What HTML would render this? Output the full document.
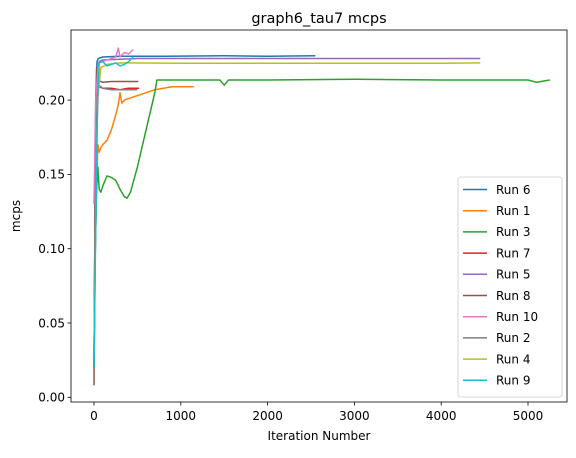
<!DOCTYPE html>
<html><head><meta charset="utf-8"><style>
body{margin:0;background:#fff;}
svg text{font-family:"DejaVu Sans","Liberation Sans",sans-serif;fill:#000;}
</style></head><body>
<svg id="c" width="576" height="453" xmlns="http://www.w3.org/2000/svg"></svg>
<script>
const xTicks=[0,1000,2000,3000,4000,5000];
const yTicks=[0,0.05,0.10,0.15,0.20];
const yTickLabels=["0.00","0.05","0.10","0.15","0.20"];
const runNames=["Run 6","Run 1","Run 3","Run 7","Run 5","Run 8","Run 10","Run 2","Run 4","Run 9"];
const runColors=["#1f77b4","#ff7f0e","#2ca02c","#d62728","#9467bd","#8c564b","#e377c2","#7f7f7f","#bcbd22","#17becf"];
const run6X=[0,10,20,35,50,100,300,800,1500,2000,2550];
const run6Y=[0.02,0.12,0.2,0.226,0.228,0.229,0.2295,0.2295,0.2298,0.2295,0.2298];
const run1X=[0,15,30,45,60,80,100,150,200,250,280,300,320,350,400,500,600,700,800,900,1000,1150];
const run1Y=[0.03,0.1,0.14,0.17,0.165,0.168,0.17,0.173,0.18,0.19,0.197,0.205,0.198,0.2,0.201,0.203,0.205,0.207,0.208,0.209,0.209,0.209];
const run3X=[0,15,30,45,60,80,100,150,200,250,300,350,380,420,500,600,700,725,800,1000,1450,1500,1550,2000,3000,4000,4500,5000,5100,5250];
const run3Y=[0.02,0.1,0.14,0.155,0.14,0.138,0.142,0.149,0.148,0.146,0.14,0.135,0.134,0.138,0.155,0.18,0.205,0.2135,0.2135,0.2135,0.2135,0.21,0.2135,0.2135,0.214,0.2135,0.2135,0.2135,0.212,0.2135];
const run7X=[0,15,30,60,100,200,300,400,520];
const run7Y=[0.02,0.15,0.21,0.209,0.208,0.208,0.207,0.208,0.208];
const run5X=[0,15,30,60,100,500,1000,2000,3000,4000,4450];
const run5Y=[0.02,0.15,0.215,0.226,0.227,0.228,0.228,0.228,0.228,0.228,0.228];
const run8X=[0,10,20,30,60,100,200,300,400,510];
const run8Y=[0.008,0.1,0.19,0.222,0.213,0.212,0.2125,0.2125,0.2125,0.2125];
const run10X=[0,20,50,100,150,200,250,280,300,350,400,450];
const run10Y=[0.13,0.2,0.225,0.226,0.227,0.228,0.229,0.235,0.229,0.232,0.231,0.234];
const run2X=[0,20,50,80,100,200,300,400,500];
const run2Y=[0.02,0.15,0.21,0.209,0.208,0.207,0.207,0.207,0.207];
const run4X=[0,20,40,80,150,300,1000,2000,3000,4000,4450];
const run4Y=[0.03,0.12,0.2,0.222,0.224,0.225,0.2248,0.2248,0.2248,0.2248,0.225];
const run9X=[0,20,40,60,100,150,200,250,300,350,400,450];
const run9Y=[0.02,0.113,0.2,0.225,0.226,0.223,0.224,0.225,0.223,0.224,0.226,0.229];
const allX=[run6X,run1X,run3X,run7X,run5X,run8X,run10X,run2X,run4X,run9X];
const allY=[run6Y,run1Y,run3Y,run7Y,run5Y,run8Y,run10Y,run2Y,run4Y,run9Y];

const L=71,R=567,T=30,B=402;
const sx=v=>94+v*0.0868;
const sy=v=>397.3-v*1486;
const svg=document.getElementById('c');
const NS='http://www.w3.org/2000/svg';
function mk(tag,attrs,parent){const e=document.createElementNS(NS,tag);for(const k in attrs)e.setAttribute(k,attrs[k]);(parent||svg).appendChild(e);return e;}

const title=mk('text',{x:(L+R)/2,y:23,'text-anchor':'middle','font-size':'14.5'});
title.textContent='graph6_tau7 mcps';



const clip=mk('clipPath',{id:'pc'});mk('rect',{x:L,y:T,width:R-L,height:B-T},clip);
const g=mk('g',{'clip-path':'url(#pc)'});


for(let i=0;i<allX.length;i++){
  const d=allX[i].map((x,j)=>(j?'L':'M')+sx(x).toFixed(1)+','+sy(allY[i][j]).toFixed(1)).join(' ');
  const p=mk('path',{d:d,fill:'none',stroke:runColors[i],'stroke-width':1.5,'stroke-linejoin':'round'},g);
  
  
}
const frame=mk('rect',{x:L,y:T,width:R-L,height:B-T,fill:'none',stroke:'#000','stroke-width':0.8});



xTicks.forEach(t=>{
  const x=sx(t);
  mk('line',{x1:x,x2:x,y1:B,y2:B+3.5,stroke:'#000','stroke-width':0.8});
  const tx=mk('text',{x:x,y:B+18,'text-anchor':'middle','font-size':'12'});
  tx.textContent=t;
  
  
});
yTicks.forEach((t,i)=>{
  const y=sy(t);
  mk('line',{x1:L-3.5,x2:L,y1:y,y2:y,stroke:'#000','stroke-width':0.8});
  const tx=mk('text',{x:L-6,y:y+4.3,'text-anchor':'end','font-size':'12'});
  tx.textContent=yTickLabels[i];
  
  
});
const xl=mk('text',{x:(L+R)/2,y:440,'text-anchor':'middle','font-size':'12'});
xl.textContent='Iteration Number';


const yl=mk('text',{x:20,y:(T+B)/2,'text-anchor':'middle','font-size':'12',transform:'rotate(-90 20 '+(T+B)/2+')'});
yl.textContent='mcps';



const lg=mk('g',{});


mk('rect',{x:458,y:177,width:104,height:220,rx:2.5,fill:'#fff',stroke:'#ccc','stroke-width':0.8},lg);
runNames.forEach((n,i)=>{
  const y=189.5+i*21.2;
  const e=mk('g',{},lg);
  
  
  mk('line',{x1:463,x2:487,y1:y,y2:y,stroke:runColors[i],'stroke-width':1.5},e);
  const t=mk('text',{x:496,y:y+4.3,'font-size':'12'},e);
  t.textContent=n;
});
</script>
</body></html>
